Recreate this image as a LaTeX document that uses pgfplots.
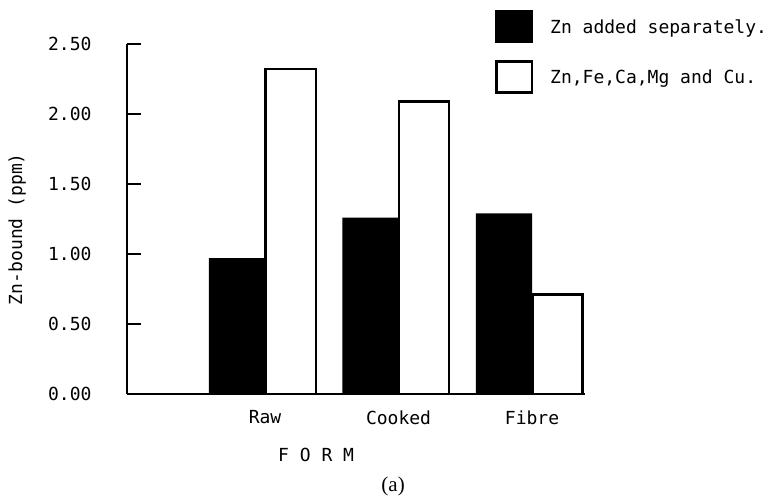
\documentclass[border=0pt]{standalone}
\usepackage{pgfplots}
\pgfplotsset{compat=1.18}
\usepackage{fontspec}
\setmainfont{DejaVu Sans Mono}
\newfontfamily\serifa{Liberation Serif}
\newcommand{\bigf}{\fontsize{18}{21}\selectfont}
\begin{document}
\begin{tikzpicture}
\path[use as bounding box] (-127pt,-104pt) rectangle (643pt,394pt);
\begin{axis}[
  at={(0,0)}, anchor=south west,
  scale only axis, width=458pt, height=350pt,
  xmin=-0.034, xmax=3.397, ymin=0, ymax=2.5,
  axis x line=bottom, axis y line=left,
  axis line style={-, line width=2.5pt},
  clip=false,
  xtick={1,2,3}, xticklabels={Raw,Cooked,Fibre},
  x tick style={draw=none},
  xticklabel style={font=\bigf, yshift=-13pt},
  ytick={0,0.5,1,1.5,2,2.5},
  y tick style={line width=2.5pt, black},
  tick align=inside, major tick length=14pt,
  yticklabel style={font=\bigf, xshift=-32pt},
  /pgf/number format/assume math mode=true,
  /pgf/number format/.cd, fixed, fixed zerofill, precision=2, /pgfplots/.cd,
  xlabel={F O R M},
  xlabel style={font=\bigf, at={(axis description cs:0.413,-0.174)}, anchor=center},
  ylabel={Zn-bound (ppm)},
  ylabel style={font=\bigf, at={(axis description cs:-0.240,0.471)}, anchor=center},
  legend style={draw=none, fill=none, at={(axis description cs:0.8035,1.097)}, anchor=north west,
    inner sep=0pt, nodes={inner sep=0pt}, row sep=17pt, column sep=17pt, font=\bigf},
  legend cell align=left,
]
\addplot[ybar, bar width=0.42, bar shift=-0.21, fill=black, draw=none,
  legend image code/.code={\fill[fill=black] (0pt,-16pt) rectangle (38pt,17pt);}]
  coordinates {(1,0.97) (2,1.26) (3,1.29)};
\addlegendentry{Zn added separately.}
\addplot[ybar, bar width=0.375, bar shift=0.1925, fill=white, draw=black, line width=2.5pt,
  legend image code/.code={\filldraw[draw=black, fill=white, line width=2.5pt] (1.25pt,-15pt) rectangle (36.75pt,16pt);}]
  coordinates {(1,2.32) (2,2.09) (3,0.71)};
\addlegendentry{Zn,Fe,Ca,Mg and Cu.}
\node[font={\serifa\fontsize{21}{23}\selectfont}] at (axis description cs:0.581,-0.263) {(a)};
\end{axis}
\end{tikzpicture}
\end{document}
